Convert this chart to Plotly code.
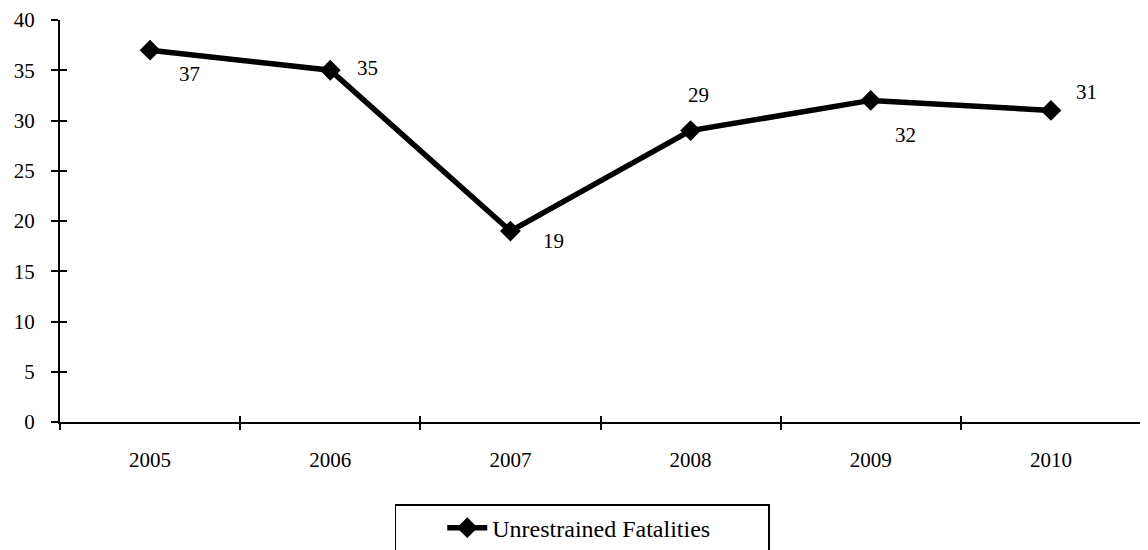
import plotly.graph_objects as go

years = ["2005", "2006", "2007", "2008", "2009", "2010"]
fatalities = [37, 35, 19, 29, 32, 31]
series_name = "Unrestrained Fatalities"

FONT = dict(family="Liberation Serif, DejaVu Serif, serif", size=21, color="black")

# label offsets (px, right/down) per point, roughly where the original put them
label_offsets = [(39, 24), (37, -2), (43, 10), (8, -36), (35, 35), (36, -18)]

fig = go.Figure()
fig.add_trace(
    go.Scatter(
        x=years,
        y=fatalities,
        mode="lines+markers",
        name=series_name,
        line=dict(color="black", width=5.5),
        marker=dict(symbol="diamond", size=16, color="black"),
        cliponaxis=False,
    )
)
# invisible trace to drive the overlay axes (crossing tick marks)
fig.add_trace(
    go.Scatter(x=years, y=fatalities, xaxis="x2", yaxis="y2",
               mode="markers", marker=dict(opacity=0), showlegend=False,
               hoverinfo="skip")
)

for i, (val, (dx, dy)) in enumerate(zip(fatalities, label_offsets)):
    fig.add_annotation(x=i, y=val, text=str(val), showarrow=False,
                       xshift=dx, yshift=-dy, font=FONT)

axis_common = dict(showgrid=False, zeroline=False, linecolor="black",
                   linewidth=2, tickcolor="black", tickwidth=2,
                   automargin=False)

fig.update_layout(
    width=1148,
    height=550,
    margin=dict(l=52, r=15, t=12, b=136),
    paper_bgcolor="white",
    plot_bgcolor="white",
    font=FONT,
    xaxis=dict(**axis_common, type="category", showline=True, ticks="outside",
               ticklen=6, tickson="boundaries", range=[-0.5, 5.5],
               ticklabelstandoff=18),
    yaxis=dict(**axis_common, showline=True, ticks="outside", ticklen=7,
               range=[0, 40], dtick=5, ticklabelstandoff=12),
    xaxis2=dict(**axis_common, type="category", overlaying="x", showline=False,
                ticks="inside", ticklen=6, tickson="boundaries",
                range=[-0.5, 5.5], showticklabels=False),
    yaxis2=dict(**axis_common, overlaying="y", showline=False, ticks="inside",
                ticklen=7, range=[0, 40], dtick=5, showticklabels=False),
    showlegend=True,
    legend=dict(orientation="h", xref="container", x=0.5, xanchor="center",
                yref="container", y=0.098, yanchor="top",
                bordercolor="black", borderwidth=1.5,
                # blank title just pads the box on the left like the original
                title=dict(text="\u00a0" * 5, side="left"),
                font=dict(FONT, size=24), entrywidth=270, itemwidth=40),
)

fig.write_html("out.html")
